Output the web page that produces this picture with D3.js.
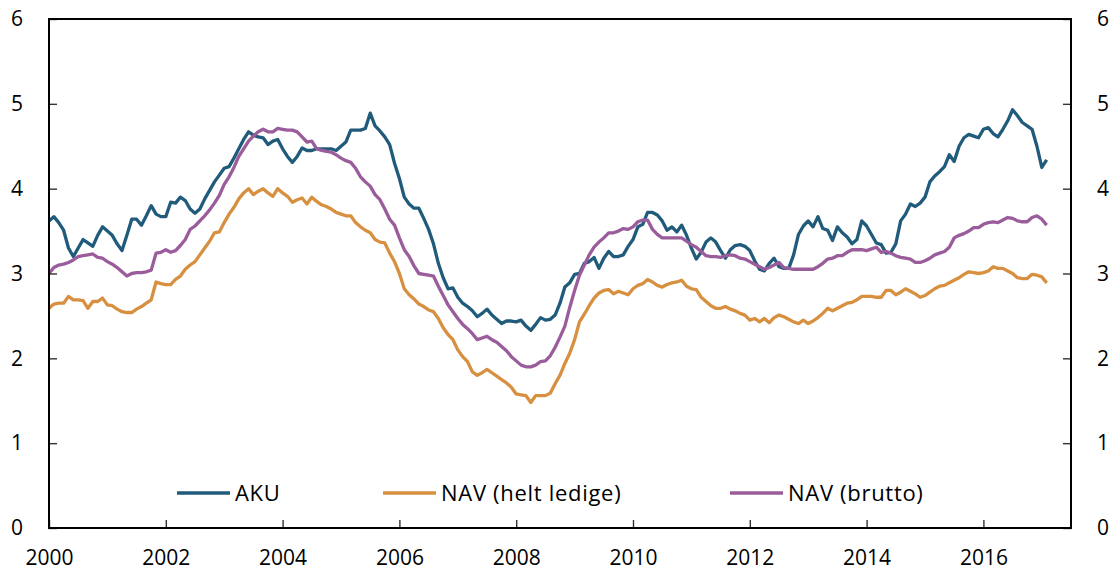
<!DOCTYPE html>
<html lang="no">
<head>
    <meta charset="utf-8">
    <title>Ledighet</title>
    <style>
body {
    margin: 0;
    background: #fff;
    font-family: "Open Sans", sans-serif;
}

.line {
    fill: none;
    stroke-width: 3.3;
    stroke-linejoin: round;
}

text {
    font-size: 21px;
    fill: #000;
}

.legend text {
    font-size: 22px;
    letter-spacing: 0.7px;
}
    </style>
    <script src="https://d3js.org/d3.v7.min.js"></script>
</head>
<body>
<div id="chart"></div>
<script type="text/javascript">
// månedlige tall fra jan 2000
const startYear = 2000;

const aku = [
    3.62, 3.67, 3.60, 3.51, 3.30, 3.20, 3.30, 3.40, 3.36, 3.32, 3.45, 3.55,
    3.50, 3.45, 3.35, 3.27, 3.45, 3.64, 3.64, 3.57, 3.68, 3.80, 3.70, 3.67,
    3.67, 3.84, 3.83, 3.90, 3.86, 3.76, 3.71, 3.76, 3.88, 3.98, 4.08, 4.16,
    4.24, 4.26, 4.36, 4.47, 4.58, 4.67, 4.63, 4.61, 4.60, 4.52, 4.56, 4.58,
    4.47, 4.38, 4.31, 4.38, 4.48, 4.45, 4.45, 4.47, 4.47, 4.47, 4.47, 4.45,
    4.50, 4.55, 4.69, 4.69, 4.69, 4.71, 4.89, 4.74, 4.68, 4.61, 4.52, 4.30,
    4.12, 3.90, 3.82, 3.77, 3.77, 3.65, 3.52, 3.35, 3.12, 2.95, 2.82, 2.83,
    2.72, 2.65, 2.61, 2.56, 2.49, 2.53, 2.58, 2.51, 2.46, 2.41, 2.44, 2.44,
    2.43, 2.45, 2.38, 2.33, 2.40, 2.48, 2.45, 2.46, 2.51, 2.65, 2.84, 2.89,
    2.99, 3.00, 3.12, 3.14, 3.19, 3.06, 3.18, 3.26, 3.20, 3.20, 3.22, 3.32,
    3.40, 3.55, 3.58, 3.72, 3.72, 3.69, 3.62, 3.51, 3.55, 3.49, 3.57, 3.45,
    3.30, 3.17, 3.25, 3.37, 3.42, 3.37, 3.27, 3.18, 3.28, 3.33, 3.34, 3.32,
    3.27, 3.15, 3.05, 3.03, 3.12, 3.18, 3.08, 3.06, 3.06, 3.22, 3.46, 3.56,
    3.62, 3.55, 3.67, 3.53, 3.51, 3.39, 3.55, 3.48, 3.43, 3.35, 3.40, 3.62,
    3.56, 3.46, 3.36, 3.34, 3.24, 3.25, 3.35, 3.62, 3.70, 3.82, 3.79, 3.83,
    3.90, 4.08, 4.15, 4.20, 4.26, 4.40, 4.32, 4.50, 4.60, 4.64, 4.62, 4.60,
    4.70, 4.72, 4.65, 4.61, 4.70, 4.80, 4.93, 4.86, 4.78, 4.74, 4.70, 4.50,
    4.25, 4.34
];

const navHelt = [
    2.59, 2.64, 2.65, 2.65, 2.73, 2.69, 2.69, 2.68, 2.59, 2.67, 2.67, 2.71,
    2.63, 2.62, 2.58, 2.55, 2.54, 2.54, 2.58, 2.61, 2.65, 2.69, 2.90, 2.88,
    2.87, 2.87, 2.93, 2.97, 3.05, 3.10, 3.14, 3.22, 3.30, 3.38, 3.48, 3.49,
    3.60, 3.70, 3.78, 3.88, 3.95, 4.00, 3.93, 3.97, 4.00, 3.95, 3.91, 4.00,
    3.95, 3.91, 3.84, 3.87, 3.89, 3.82, 3.90, 3.85, 3.81, 3.79, 3.76, 3.72,
    3.70, 3.68, 3.68, 3.60, 3.55, 3.51, 3.48, 3.40, 3.37, 3.36, 3.24, 3.14,
    3.00, 2.82, 2.75, 2.70, 2.64, 2.61, 2.57, 2.55, 2.47, 2.36, 2.28, 2.22,
    2.10, 2.02, 1.96, 1.84, 1.80, 1.83, 1.87, 1.83, 1.79, 1.75, 1.71, 1.66,
    1.58, 1.57, 1.56, 1.48, 1.56, 1.56, 1.56, 1.59, 1.70, 1.80, 1.94, 2.06,
    2.22, 2.43, 2.52, 2.62, 2.71, 2.77, 2.80, 2.81, 2.76, 2.79, 2.77, 2.75,
    2.82, 2.86, 2.88, 2.93, 2.90, 2.86, 2.84, 2.87, 2.89, 2.90, 2.92, 2.85,
    2.82, 2.81, 2.72, 2.67, 2.62, 2.59, 2.59, 2.61, 2.58, 2.56, 2.53, 2.51,
    2.45, 2.47, 2.43, 2.47, 2.42, 2.48, 2.51, 2.49, 2.46, 2.43, 2.41, 2.45,
    2.41, 2.44, 2.48, 2.53, 2.59, 2.56, 2.59, 2.62, 2.65, 2.66, 2.69, 2.73,
    2.73, 2.73, 2.72, 2.72, 2.80, 2.80, 2.75, 2.78, 2.82, 2.79, 2.76, 2.72,
    2.74, 2.78, 2.82, 2.85, 2.86, 2.89, 2.92, 2.95, 2.99, 3.02, 3.01, 3.00,
    3.01, 3.03, 3.08, 3.06, 3.06, 3.03, 3.00, 2.95, 2.94, 2.94, 2.99, 2.98,
    2.96, 2.89
];

const navBrutto = [
    3.00, 3.07, 3.10, 3.11, 3.13, 3.16, 3.20, 3.21, 3.22, 3.23, 3.19, 3.18,
    3.14, 3.11, 3.07, 3.02, 2.97, 3.00, 3.01, 3.01, 3.02, 3.04, 3.24, 3.25,
    3.28, 3.25, 3.27, 3.33, 3.40, 3.52, 3.56, 3.62, 3.68, 3.75, 3.83, 3.92,
    4.05, 4.14, 4.25, 4.38, 4.47, 4.56, 4.62, 4.67, 4.70, 4.67, 4.67, 4.71,
    4.70, 4.69, 4.69, 4.67, 4.61, 4.55, 4.56, 4.47, 4.45, 4.44, 4.43, 4.40,
    4.36, 4.33, 4.31, 4.24, 4.14, 4.08, 4.03, 3.93, 3.87, 3.76, 3.64, 3.57,
    3.42, 3.28, 3.20, 3.09, 3.00, 2.99, 2.98, 2.97, 2.85, 2.74, 2.63, 2.55,
    2.47, 2.40, 2.35, 2.29, 2.22, 2.24, 2.26, 2.22, 2.19, 2.14, 2.09, 2.02,
    1.97, 1.92, 1.90, 1.90, 1.92, 1.96, 1.97, 2.03, 2.13, 2.25, 2.38, 2.60,
    2.80, 2.98, 3.10, 3.22, 3.31, 3.37, 3.42, 3.48, 3.48, 3.50, 3.53, 3.52,
    3.55, 3.61, 3.63, 3.63, 3.52, 3.46, 3.42, 3.42, 3.42, 3.42, 3.42, 3.38,
    3.34, 3.31, 3.26, 3.21, 3.20, 3.20, 3.19, 3.21, 3.22, 3.21, 3.18, 3.17,
    3.14, 3.11, 3.08, 3.05, 3.07, 3.10, 3.13, 3.07, 3.06, 3.05, 3.05, 3.05,
    3.05, 3.05, 3.08, 3.12, 3.17, 3.18, 3.21, 3.21, 3.25, 3.28, 3.28, 3.28,
    3.27, 3.29, 3.31, 3.25, 3.26, 3.24, 3.21, 3.19, 3.18, 3.17, 3.13, 3.13,
    3.15, 3.18, 3.22, 3.24, 3.26, 3.31, 3.42, 3.45, 3.47, 3.50, 3.54, 3.54,
    3.58, 3.60, 3.61, 3.60, 3.63, 3.66, 3.65, 3.62, 3.61, 3.61, 3.66, 3.68,
    3.64, 3.57
];

const seriesNames = ["AKU", "NAV (helt ledige)", "NAV (brutto)"];
const seriesColors = ["#215b7b", "#d78f40", "#9a5c9a"];
const yTicks = [0, 1, 2, 3, 4, 5, 6];
const xTicks = [2000, 2002, 2004, 2006, 2008, 2010, 2012, 2014, 2016];

const width = 1114;
const height = 573;
const margin = {left: 49, right: 43, top: 19, bottom: 45};

const svg = d3.select("#chart").append("svg")
    .attr("width", width)
    .attr("height", height);

const x = d3.scaleLinear()
    .domain([2000, 2017.5])
    .range([margin.left, width - margin.right]);

const y = d3.scaleLinear()
    .domain([0, 6])
    .range([height - margin.bottom, margin.top]);

const line = d3.line()
    .x((d, i) => x(startYear + i / 12))
    .y(d => y(d));

// linjer
[aku, navHelt, navBrutto].forEach(function (s, k) {
    svg.append("path")
        .datum(s)
        .attr("class", "line")
        .attr("stroke", seriesColors[k])
        .attr("d", line);
});

// akser
const fmt = d3.format("d");
const yLeft = d3.axisLeft(y).tickValues(yTicks).tickFormat(fmt).tickSize(-8).tickPadding(26);
const yRight = d3.axisRight(y).tickValues(yTicks).tickFormat(fmt).tickSize(-8).tickPadding(26);
const xBottom = d3.axisBottom(x).tickValues(xTicks).tickFormat(fmt).tickSize(-8).tickPadding(22);

function styleAxis(g) {
    g.select(".domain").remove();
    g.selectAll(".tick line").attr("stroke", "#333").attr("stroke-width", 1.4);
    g.selectAll("text")
        .attr("font-family", "Open Sans, sans-serif")
        .attr("font-size", 21)
        .attr("fill", "#000");
}

svg.append("g")
    .attr("transform", "translate(" + margin.left + ",0)")
    .call(yLeft).call(styleAxis);
svg.append("g")
    .attr("transform", "translate(" + (width - margin.right) + ",0)")
    .call(yRight).call(styleAxis);
svg.append("g")
    .attr("transform", "translate(0," + (height - margin.bottom) + ")")
    .call(xBottom).call(styleAxis);

// ramme
svg.append("rect")
    .attr("x", margin.left)
    .attr("y", margin.top)
    .attr("width", width - margin.left - margin.right)
    .attr("height", height - margin.top - margin.bottom)
    .attr("fill", "none")
    .attr("stroke", "#000")
    .attr("stroke-width", 2);

// legend
const legendX = [177, 383, 730];
const legendY = 493;
const legend = svg.append("g").attr("class", "legend");
seriesNames.forEach(function (name, k) {
    legend.append("line")
        .attr("x1", legendX[k]).attr("x2", legendX[k] + 53)
        .attr("y1", legendY).attr("y2", legendY)
        .attr("stroke", seriesColors[k])
        .attr("stroke-width", 3.3);
    legend.append("text")
        .attr("x", legendX[k] + 58)
        .attr("y", legendY)
        .attr("dy", "0.35em")
        .text(name);
});
</script>
</body>
</html>
